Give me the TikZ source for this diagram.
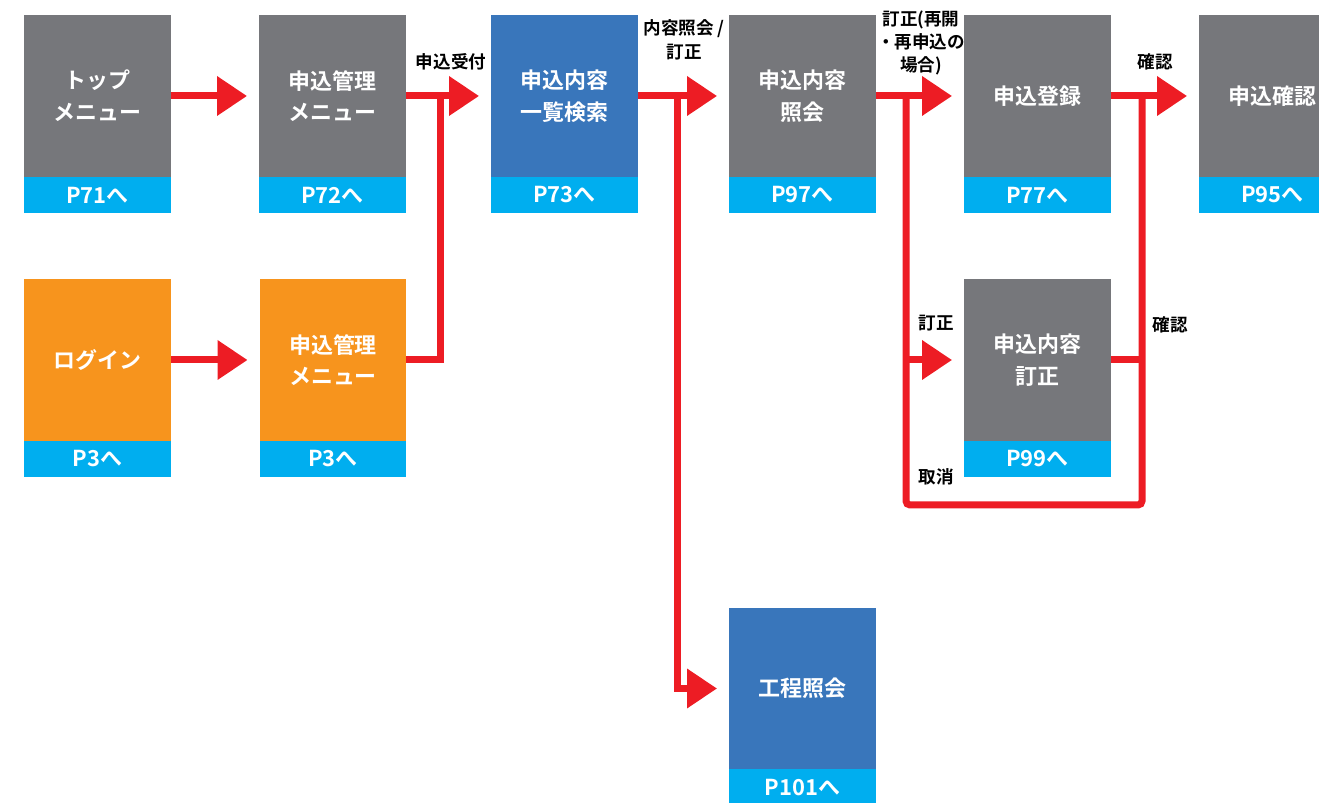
\documentclass[tikz,border=0pt]{standalone}
\usepackage{fontspec}
\setmainfont{Noto Sans CJK JP}[BoldFont={Noto Sans CJK JP Bold}]
\usetikzlibrary{positioning,arrows.meta}

\definecolor{screengray}{RGB}{118,119,123}
\definecolor{screenblue}{RGB}{57,118,187}
\definecolor{screenorange}{RGB}{247,148,29}
\definecolor{pagecyan}{RGB}{0,174,239}
\definecolor{flowred}{RGB}{237,28,36}

\def\boxw{2.94cm}

\begin{document}
\begin{tikzpicture}
[x=0.02cm, y=-0.02cm,
every node/.style={font=\bfseries},
screen/.style={
  minimum width=\boxw, minimum height=3.24cm, inner sep=0pt, outer sep=0pt,
  text=white, align=center, font=\fontsize{12.5}{18}\selectfont\bfseries
},
grayscreen/.style={screen, fill=screengray},
bluescreen/.style={screen, fill=screenblue},
orangescreen/.style={screen, fill=screenorange},
pagetag/.style={
  fill=pagecyan, minimum width=\boxw, minimum height=0.72cm, inner sep=0pt,
  outer sep=0pt, text=white, font=\fontsize{12.5}{15}\selectfont\bfseries
},
flow/.style={
  draw=flowred, line width=0.14cm, -{Triangle[length=0.6cm,width=0.76cm]},
  shorten >=0.24cm
},
redline/.style={draw=flowred, line width=0.14cm},
steplabel/.style={font=\fontsize{10}{14}\selectfont\bfseries, align=center, text=black}
]
\useasboundingbox (0,0) rectangle (1319,803);

% Top row
\node[grayscreen] (topmenu) at (97.5,96) {トップ\\メニュー};
\node[pagetag, below=0pt of topmenu] (topmenu page) {P71へ};
\node[grayscreen] (mgr) at (332.5,96) {申込管理\\メニュー};
\node[pagetag, below=0pt of mgr] (mgr page) {P72へ};
\node[bluescreen] (search) at (564.5,96) {申込内容\\一覧検索};
\node[pagetag, below=0pt of search] (search page) {P73へ};
\node[grayscreen] (detail) at (802.5,96) {申込内容\\照会};
\node[pagetag, below=0pt of detail] (detail page) {P97へ};
\node[grayscreen] (entry) at (1037.5,96) {申込登録};
\node[pagetag, below=0pt of entry] (entry page) {P77へ};
\node[grayscreen] (confirm) at (1272.5,96) {申込確認};
\node[pagetag, below=0pt of confirm] (confirm page) {P95へ};

% Second row
\node[orangescreen] (login) at (97.5,360) {ログイン};
\node[pagetag, below=0pt of login] (login page) {P3へ};
\node[orangescreen] (mgrlogin) at (333,360) {申込管理\\メニュー};
\node[pagetag, below=0pt of mgrlogin] (mgrlogin page) {P3へ};
\node[grayscreen] (fix) at (1037.5,360) {申込内容\\訂正};
\node[pagetag, below=0pt of fix] (fix page) {P99へ};

% Process lookup
\node[bluescreen] (process) at (802.5,688.5) {工程照会};
\node[pagetag, below=0pt of process] (process page) {P101へ};

% Connectors
\coordinate (accept) at (440,96);
\coordinate (lookup) at (677,96);
\coordinate (reopen) at (906,96);
\coordinate (cancel) at (906,505);
\coordinate (back) at (1142,505);
\coordinate (ok) at (1142,96);

\draw[flow] (topmenu.east) -- (mgr.west);
\draw[flow] (login.east) -- (mgrlogin.west);
\draw[redline] (mgrlogin.east) -| (accept);
\draw[flow] (mgr.east) -- (search.west);
\draw[flow] (search.east) -- (detail.west);
\draw[flow] (lookup) |- (process.west);
\draw[flow] (detail.east) -- (entry.west);
\draw[flow] (entry.east) -- (confirm.west);
\draw[redline, rounded corners=0.08cm] (reopen) -- (cancel) -- (back) -- (ok);
\draw[flow] (reopen |- fix.west) -- (fix.west);
\draw[redline] (fix.east) -- (fix.east -| ok);

% Labels
\node[steplabel] (accept label) at (451,62) {申込受付};
\node[steplabel] (lookup label) at (684,40) {内容照会 /\\訂正};
\node[steplabel, font=\fontsize{10}{13}\selectfont\bfseries] (reopen label) at (921,43) {訂正(再開\\・再申込の\\場合)};
\node[steplabel] (ok label) at (1155,62) {確認};
\node[steplabel] (fix label) at (936,323) {訂正};
\node[steplabel] (fixok label) at (1170,325) {確認};
\node[steplabel] (cancel label) at (936,477) {取消};

\end{tikzpicture}
\end{document}
